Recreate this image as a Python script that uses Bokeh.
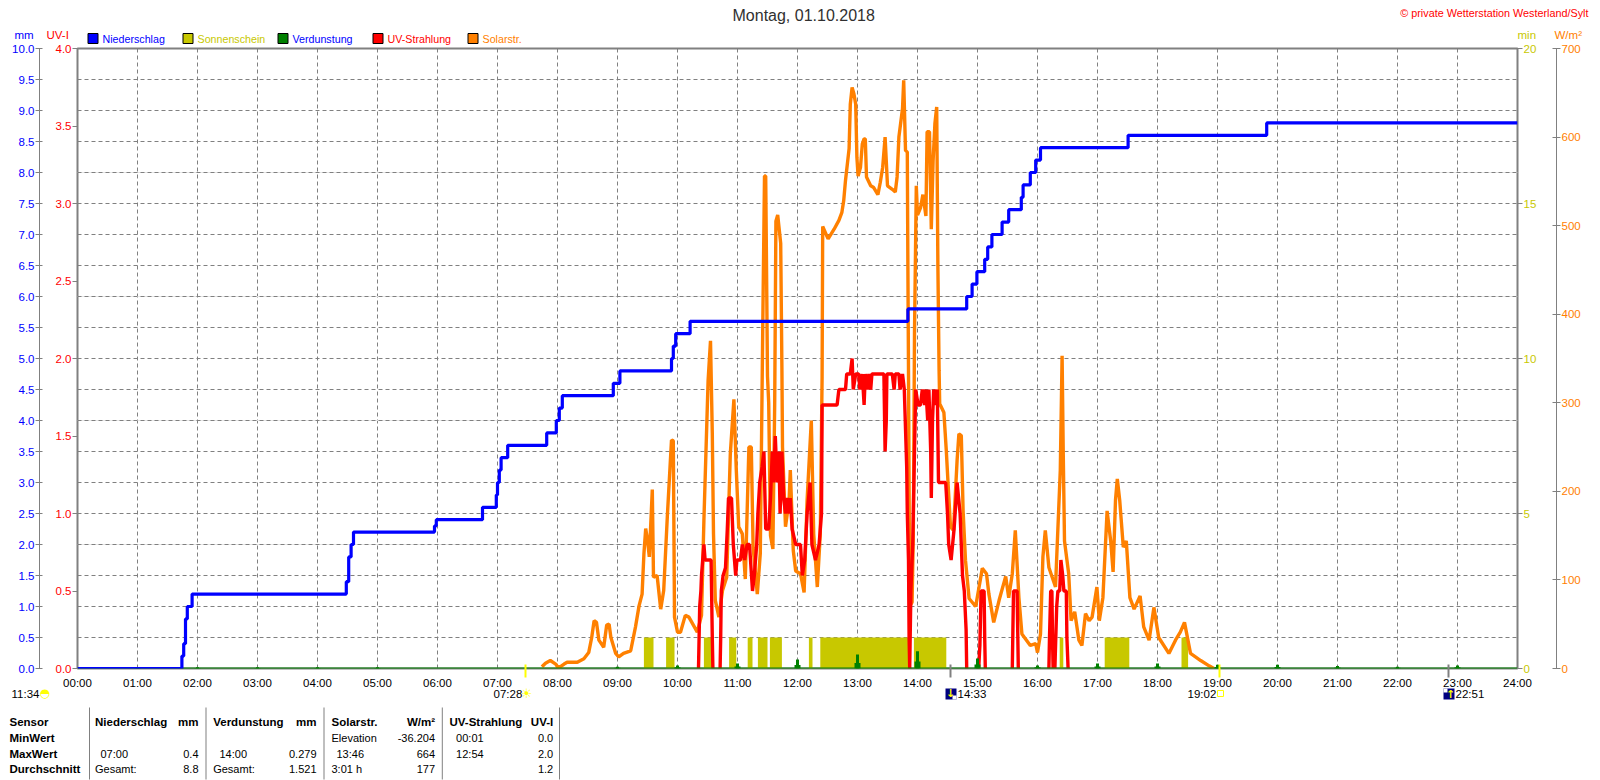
from bokeh.plotting import figure
from bokeh.embed import file_html
from bokeh.resources import INLINE
from bokeh.core.properties import value
from bokeh.models import Range1d, LinearAxis, FixedTicker, Grid, PrintfTickFormatter

nan = float("nan")

# ---------- data ----------
hour_ticks = list(range(25))
hour_labels = {h: f"{h:02d}:00" for h in hour_ticks}
mm_ticks = [i * 0.5 for i in range(21)]
uv_ticks = [i * 0.5 for i in range(9)]
min_ticks = [0, 5, 10, 15, 20]
wm2_ticks = [0, 100, 200, 300, 400, 500, 600, 700]

rain_h = [0, 1.74, 1.77, 1.80, 1.83, 1.91, 4.48, 4.52, 4.56, 4.60, 5.95, 5.98, 6.75, 6.98, 7.00, 7.03, 7.06, 7.17,
          7.82, 7.98, 8.03, 8.08, 8.93, 9.04, 9.90, 9.93, 9.97, 10.21, 13.84, 14.82, 14.91, 14.99, 15.12, 15.17,
          15.24, 15.41, 15.52, 15.73, 15.76, 15.88, 15.97, 16.05, 17.51, 19.82, 24]
rain_mm = [0, 0.2, 0.4, 0.8, 1.0, 1.2, 1.4, 1.8, 2.0, 2.2, 2.3, 2.4, 2.6, 2.8, 3.0, 3.2, 3.4, 3.6,
           3.8, 4.0, 4.2, 4.4, 4.6, 4.8, 5.0, 5.2, 5.4, 5.6, 5.8, 6.0, 6.2, 6.4, 6.6, 6.8,
           7.0, 7.2, 7.4, 7.6, 7.8, 8.0, 8.2, 8.4, 8.6, 8.8, 8.8]

sun_start = [9.44, 9.81, 10.44, 10.86, 11.17, 11.34, 11.54, 12.19, 12.38, 13.94, 16.37, 17.12, 18.40]
sun_end = [9.60, 9.95, 10.58, 10.98, 11.25, 11.50, 11.74, 12.25, 13.86, 14.48, 16.43, 17.53, 18.51]
sun_min = [1] * 13

evap_h = [1, 2, 3, 4, 5, 9, 10, 11, 12, 13, 14, 15, 16, 17, 18, 19, 20, 21, 22, 23]
evap_mm = [0.02, 0.02, 0.02, 0.02, 0.02, 0.03, 0.05, 0.08, 0.145, 0.226, 0.279, 0.16, 0.05, 0.08, 0.08, 0.06,
           0.06, 0.04, 0.03, 0.05]

solar_h = [7.74, 7.80, 7.88, 7.97, 8.00, 8.05, 8.11, 8.16, 8.33, 8.44, 8.52, 8.57, 8.61, 8.65, 8.69, 8.77, 8.82,
           8.86, 8.89, 8.97, 9.02, 9.10, 9.22, 9.30, 9.36, 9.41, 9.44, 9.47, 9.50, 9.53, 9.58, 9.60, 9.66, 9.72,
           9.77, 9.83, 9.90, 9.93, 9.95, 10.00, 10.05, 10.13, 10.19, 10.33, 10.40, 10.44, 10.51, 10.55, 10.58,
           10.60, 10.63, 10.69, 10.75, 10.82, 10.88, 10.94, 10.98, 11.02, 11.08, 11.13, 11.19, 11.23, 11.26,
           11.33, 11.38, 11.42, 11.45, 11.47, 11.50, 11.52, 11.55, 11.59, 11.62, 11.64, 11.67, 11.72, 11.74,
           11.75, 11.80, 11.86, 11.88, 11.93, 11.97, 12.05, 12.11, 12.16, 12.23, 12.27, 12.33, 12.38, 12.41,
           12.42, 12.51, 12.61, 12.69, 12.74, 12.77, 12.80, 12.86, 12.88, 12.91, 12.94, 12.97, 12.99, 13.01,
           13.05, 13.08, 13.11, 13.13, 13.15, 13.22, 13.27, 13.34, 13.38, 13.42, 13.46, 13.50, 13.58, 13.63,
           13.66, 13.69, 13.75, 13.77, 13.80, 13.83, 13.84, 13.85, 13.87, 13.91, 13.93, 13.95, 13.98, 14.00,
           14.05, 14.09, 14.14, 14.16, 14.20, 14.23, 14.26, 14.29, 14.32, 14.34, 14.36, 14.37, 14.44, 14.48,
           14.51, 14.55, 14.60, 14.66, 14.69, 14.73, 14.76, 14.80, 14.86, 14.97, 15.08, 15.15, 15.19, 15.27,
           15.36, 15.47, 15.52, 15.58, 15.63, 15.69, 15.74, 15.88, 15.97, 16.00, 16.05, 16.09, 16.13, 16.19,
           16.30, 16.38, 16.41, 16.43, 16.45, 16.52, 16.56, 16.62, 16.69, 16.74, 16.80, 16.86, 16.91, 16.99,
           17.03, 17.09, 17.16, 17.22, 17.26, 17.30, 17.33, 17.37, 17.43, 17.48, 17.54, 17.61, 17.71, 17.77,
           17.86, 17.94, 18.02, 18.19, 18.30, 18.38, 18.45, 18.55, 18.72, 18.86, 18.94]
solar_w = [2, 6, 9, 5, 2, 2, 5, 7, 7, 11, 18, 35, 54, 52, 32, 24, 49,
           50, 35, 17, 13, 17, 20, 47, 71, 84, 129, 158, 145, 126, 202, 103, 105, 67,
           88, 171, 258, 257, 58, 41, 41, 60, 58, 41, 60, 167, 325, 370, 265,
           152, 77, 58, 88, 103, 242, 304, 224, 160, 152, 101, 250, 250, 137,
           84, 130, 380, 556, 556, 330, 300, 150, 135, 300, 505, 512, 480, 340,
           250, 160, 190, 224, 133, 110, 107, 86, 190, 280, 152, 92, 152, 329,
           499, 485, 496, 506, 515, 528, 551, 587, 637, 656, 649, 637, 577, 556,
           566, 592, 598, 598, 555, 545, 543, 535, 549, 566, 600, 545, 541, 538,
           555, 600, 632, 664, 585, 583, 451, 336, 70, 75, 150, 378, 545, 512,
           520, 535, 511, 606, 606, 496, 573, 615, 634, 453, 336, 299, 289, 246,
           208, 160, 156, 235, 265, 263, 178, 122, 79, 70, 113, 107, 84, 52,
           77, 104, 80, 107, 156, 80, 39, 26, 28, 18, 39, 126, 156, 114,
           92, 224, 353, 239, 144, 107, 54, 64, 32, 26, 62, 54, 58, 92,
           54, 80, 178, 144, 109, 190, 214, 190, 137, 144, 80, 67, 82, 47,
           32, 69, 35, 17, 32, 41, 52, 17, 9, 3, 0]

uv_h = [10.35, 10.36, 10.37, 10.39, 10.40, 10.42, 10.44, 10.46, 10.56, 10.58, 10.59, nan,
        10.71, 10.72, 10.73, 10.76, 10.80, 10.83, 10.85, 10.90, 10.93, 10.97, 10.99, 11.05, 11.08, 11.12, 11.16,
        11.20, 11.25, 11.28, 11.32, 11.34, 11.37, 11.41, 11.44, 11.47, 11.52, 11.55, 11.58, 11.60, 11.63, 11.66,
        11.69, 11.71, 11.74, 11.77, 11.80, 11.83, 11.86, 11.88, 11.91, 11.97, 12.05, 12.08, 12.12, 12.16, 12.21,
        12.24, 12.30, 12.36, 12.40, 12.41, 12.66, 12.69, 12.80, 12.82, 12.88, 12.91, 12.93, 12.97, 13.02, 13.04,
        13.08, 13.11, 13.13, 13.16, 13.19, 13.22, 13.24, 13.44, 13.46, 13.48, 13.49, 13.58, 13.61, 13.63, 13.69,
        13.71, 13.75, 13.78, 13.82, 13.83, 13.85, 13.86, 13.87, 13.89, 13.92, 13.94, 13.97, 14.01, 14.05, 14.08,
        14.12, 14.14, 14.17, 14.19, 14.22, 14.23, 14.25, 14.27, 14.30, 14.33, 14.35, 14.47, 14.50, 14.52, 14.56,
        14.61, 14.66, 14.71, 14.75, 14.78, 14.81, 14.82, nan,
        15.02, 15.04, 15.06, 15.11, 15.12, 15.13, nan,
        15.58, 15.59, 15.60, 15.66, 15.67, 15.68, nan,
        16.19, 16.20, 16.22, 16.24, 16.25, 16.26, nan,
        16.29, 16.32, 16.34, 16.37, 16.39, 16.42, 16.44, 16.48, 16.49, 16.51]
uv_i = [0, 0.2, 0.4, 0.5, 0.6, 0.7, 0.8, 0.7, 0.7, 0.2, 0, nan,
        0, 0.2, 0.5, 0.6, 0.65, 0.9, 1.1, 1.1, 0.8, 0.6, 0.7, 0.7, 0.8, 0.7, 0.8,
        0.8, 0.5, 0.6, 0.8, 1.0, 1.2, 1.3, 1.4, 0.9, 0.9, 1.1, 1.4, 1.2, 1.5, 1.2,
        1.4, 1.0, 1.4, 1.1, 1.0, 1.1, 1.0, 1.1, 0.9, 0.8, 0.8, 0.6, 0.7, 1.0, 1.2,
        0.8, 0.7, 0.8, 1.0, 1.7, 1.7, 1.8, 1.8, 1.9, 1.9, 2.0, 1.8, 1.9, 1.9, 1.8,
        1.9, 1.7, 1.9, 1.8, 1.9, 1.8, 1.9, 1.9, 1.4, 1.6, 1.9, 1.9, 1.8, 1.9, 1.9,
        1.8, 1.9, 1.8, 1.3, 1.0, 0.7, 0.2, 0, 0.5, 0.8, 1.2, 1.8, 1.7, 1.7, 1.8,
        1.7, 1.8, 1.6, 1.8, 1.4, 1.1, 1.6, 1.8, 1.7, 1.8, 1.2, 1.2, 1.0, 0.8, 0.7,
        0.9, 1.2, 1.0, 0.6, 0.5, 0.25, 0, nan,
        0, 0.15, 0.5, 0.5, 0.2, 0, nan,
        0, 0.25, 0.5, 0.5, 0.25, 0, nan,
        0, 0.2, 0.5, 0.5, 0.2, 0, nan,
        0, 0.4, 0.5, 0.5, 0.7, 0.6, 0.5, 0.5, 0.2, 0]

legend_names = ["Niederschlag", "Sonnenschein", "Verdunstung", "UV-Strahlung", "Solarstr."]
legend_fill = ["#0000FF", "#C8C800", "#008000", "#FF0000", "#FF8000"]
legend_text = ["#0000FF", "#C8C800", "#0000FF", "#FF0000", "#FF8000"]

sunrise_h = 7 + 28 / 60
sunset_h = 19 + 2 / 60
moonrise_h = 14 + 33 / 60
moonset_h = 22 + 51 / 60

BLUE, OLIVE, GREEN, RED, ORANGE, GRAY = "#0000FF", "#C8C800", "#008000", "#FF0000", "#FF8000", "#808080"
FONT = "Liberation Sans"

# ---------- figure ----------
p = figure(width=1600, height=780, output_backend="svg", toolbar_location=None,
           x_range=Range1d(0, 24), y_range=Range1d(0, 10), y_axis_location=None,
           min_border_left=77, min_border_right=83, min_border_top=48, min_border_bottom=112)

p.extra_y_ranges = {"uv": Range1d(0, 4), "sun": Range1d(0, 20), "wm2": Range1d(0, 700)}
p.outline_line_color = GRAY
p.outline_line_width = 2
p.background_fill_color = "white"
p.border_fill_color = "white"


def X(px):
    return (px - 77) / 60


def Y(py):
    return (668 - py) / 62


def style_axis(ax, ticks, color, fmt, tick_in, tick_out, line):
    ax.ticker = FixedTicker(ticks=ticks)
    ax.formatter = PrintfTickFormatter(format=fmt)
    ax.major_label_text_color = color
    ax.major_label_text_font = FONT
    ax.major_label_text_font_size = "11.5px"
    ax.major_label_standoff = 1
    ax.minor_tick_line_color = None
    ax.major_tick_line_color = GRAY
    ax.major_tick_in = tick_in
    ax.major_tick_out = tick_out
    ax.axis_line_color = line


uv_axis = LinearAxis(y_range_name="uv")
style_axis(uv_axis, uv_ticks, RED, "%.1f", 0, 5, None)
uv_axis.axis_label = " "
uv_axis.axis_label_text_font_size = "6px"
uv_axis.axis_label_standoff = 4
mm_axis = LinearAxis()
style_axis(mm_axis, mm_ticks, BLUE, "%.1f", 3, 4, GRAY)
p.add_layout(uv_axis, "left")
p.add_layout(mm_axis, "left")

min_axis = LinearAxis(y_range_name="sun")
style_axis(min_axis, min_ticks, OLIVE, "%d", 0, 5, None)
min_axis.axis_label = " "
min_axis.axis_label_text_font_size = "6px"
min_axis.axis_label_standoff = 8
wm2_axis = LinearAxis(y_range_name="wm2")
style_axis(wm2_axis, wm2_ticks, ORANGE, "%d", 4, 4, GRAY)
p.add_layout(min_axis, "right")
p.add_layout(wm2_axis, "right")

xax = p.xaxis[0]
xax.ticker = FixedTicker(ticks=hour_ticks)
xax.major_label_overrides = hour_labels
xax.major_label_text_font = FONT
xax.major_label_text_font_size = "11.5px"
xax.major_label_text_color = "black"
xax.major_label_standoff = 2
xax.major_tick_line_color = None
xax.minor_tick_line_color = None
xax.axis_line_color = None

p.xgrid.ticker = FixedTicker(ticks=hour_ticks)
p.xgrid.grid_line_color = GRAY
p.xgrid.grid_line_dash = "4 3"
p.add_layout(Grid(dimension=1, ticker=FixedTicker(ticks=mm_ticks), grid_line_color=GRAY, grid_line_dash="4 3"))

# ---------- marks ----------
p.quad(left=sun_start, right=sun_end, bottom=[0] * len(sun_min), top=sun_min, y_range_name="sun",
       fill_color=OLIVE, line_color=None)
p.line(solar_h, solar_w, y_range_name="wm2", line_color=ORANGE, line_width=3.4)
p.line(uv_h, uv_i, y_range_name="uv", line_color=RED, line_width=3.4)
p.line([0, 24], [0, 0], line_color=GREEN, line_width=2)
p.segment(evap_h, [0] * len(evap_h), evap_h, evap_mm, line_color=GREEN, line_width=3)
p.segment(evap_h, [0] * len(evap_h), evap_h, [v * 0.4 for v in evap_mm], line_color=GREEN, line_width=6)
p.step(rain_h, rain_mm, mode="after", line_color=BLUE, line_width=3.2)


# ---------- texts placed outside the frame ----------
def txt(px, py, s, color="black", align="left", size="11.5px", style="normal", font=FONT):
    p.text(x=[X(px)], y=[Y(py)], text=[s], text_color=color, text_align=align, text_baseline="middle",
           text_font_size=value(size), text_font_style=style, text_font=value(font), level="overlay")


def box(x0, x1, y0, y1, fill, line=None):
    p.quad(left=[X(x0)], right=[X(x1)], top=[Y(y0)], bottom=[Y(y1)], fill_color=fill, line_color=line,
           line_width=1, level="overlay")


txt(732, 15, "Montag, 01.10.2018", "#303030", size="16px")
txt(1588, 12, "© private Wetterstation Westerland/Sylt", RED, "right", "10.8px")
txt(14, 34, "mm", BLUE)
txt(46, 34, "UV-I", RED)
txt(1517, 34, "min", OLIVE)
txt(1554, 34, "W/m²", ORANGE)

leg_sq = [87.5, 182.5, 277.5, 372.5, 467.5]
for i, name in enumerate(legend_names):
    box(leg_sq[i], leg_sq[i] + 10, 33, 43, legend_fill[i], "black")
    txt(leg_sq[i] + 14.5, 38, name, legend_text[i], size="10.7px")

# rise / set marks
box(77 + sunrise_h * 60 - 1, 77 + sunrise_h * 60 + 1, 664, 677, "#FFFF00")
box(77 + sunset_h * 60 - 1, 77 + sunset_h * 60 + 1, 664, 677, "#FFFF00")
box(77 + moonrise_h * 60 - 1, 77 + moonrise_h * 60 + 1, 664, 677, GRAY)
box(77 + moonset_h * 60 - 1, 77 + moonset_h * 60 + 1, 664, 677, GRAY)

txt(11, 693, "11:34")
txt(39, 692, "◓", "#FFFF00", size="12px", font="DejaVu Sans")
txt(493, 693, "07:28")
txt(526, 693, "☀", "#FFFF00", "center", "13px", font="DejaVu Sans")
txt(1187, 693, "19:02")
box(1217, 1223, 690, 696, "white", "#FFFF00")
box(945, 956, 688, 699, "#000080")
box(952, 956, 695, 699, "white")
txt(950, 693, "↓", "#FFFF00", "center", "11px", "bold", "DejaVu Sans")
txt(957, 693, "14:33")
box(1443, 1454, 688, 699, "#000080")
box(1443, 1447, 688, 692, "white")
txt(1450, 694, "↑", "#FFFF00", "center", "11px", "bold", "DejaVu Sans")
txt(1455, 693, "22:51")

# ---------- table ----------
row_y = [721, 737, 753, 768]
row_names = ["Sensor", "MinWert", "MaxWert", "Durchschnitt"]
col_lines = [89, 205.5, 323.5, 441.8, 559]
for c in col_lines:
    box(c - 0.5, c + 0.5, 707, 779, GRAY)
for yy, name in zip(row_y, row_names):
    txt(9, yy, name, style="bold", size="11.5px")

table_head = [(94.5, "Niederschlag", 198, "mm"), (212.7, "Verdunstung", 316, "mm"),
              (331, "Solarstr.", 434.5, "W/m²"), (449, "UV-Strahlung", 552.7, "UV-I")]
for lx, a, rx, b in table_head:
    txt(lx, row_y[0], a, style="bold", size="11.5px")
    txt(rx, row_y[0], b, align="right", style="bold", size="11.5px")

table_cells = [
    (1, 331, "Elevation", 434.5, "-36.204"), (1, 455.6, "00:01", 552.7, "0.0"),
    (2, 100, "07:00", 198, "0.4"), (2, 219, "14:00", 316, "0.279"), (2, 336, "13:46", 434.5, "664"),
    (2, 455.6, "12:54", 552.7, "2.0"),
    (3, 94.5, "Gesamt:", 198, "8.8"), (3, 212.7, "Gesamt:", 316, "1.521"), (3, 331, "3:01 h", 434.5, "177"),
    (3, 455.6, "", 552.7, "1.2"),
]
for r, lx, a, rx, b in table_cells:
    if a:
        txt(lx, row_y[r], a, size="11px")
    txt(rx, row_y[r], b, align="right", size="11px")

open("out.html", "w").write(file_html(p, INLINE))
